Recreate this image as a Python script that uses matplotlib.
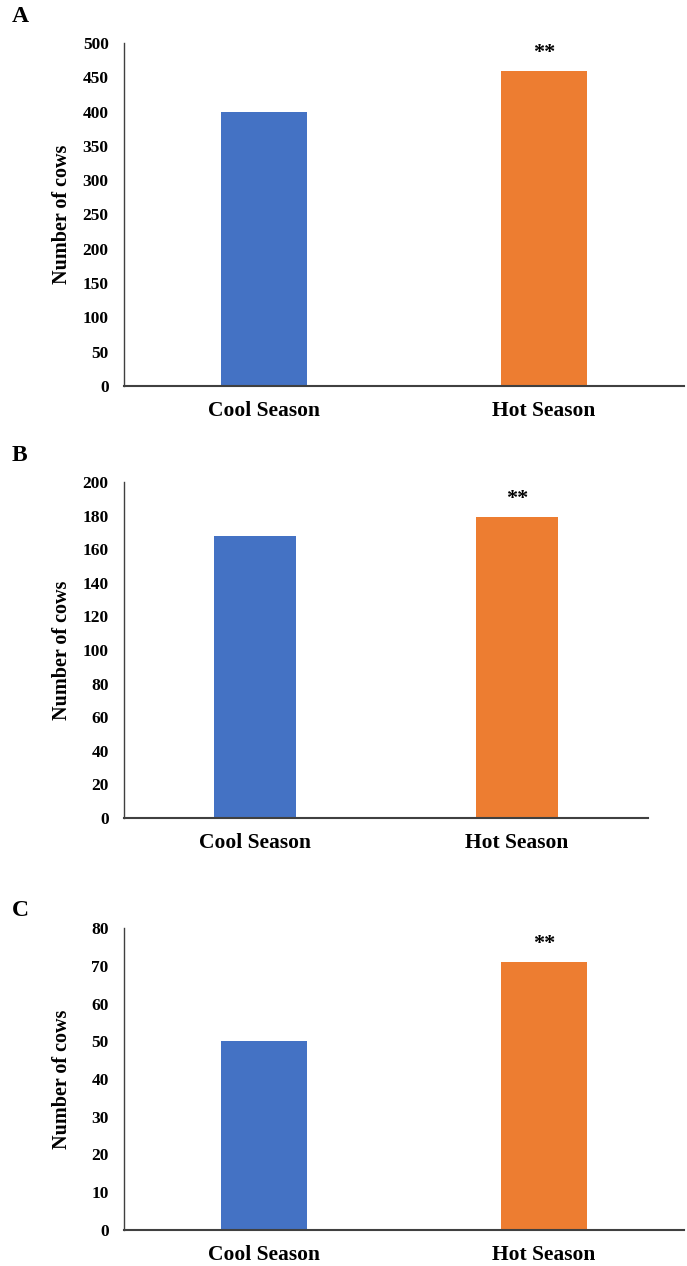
import matplotlib.pyplot as plt

plt.rcParams['font.family'] = 'Liberation Serif'
plt.rcParams['font.weight'] = 'bold'

seasons = ['Cool Season', 'Hot Season']
panel_letters = ['A', 'B', 'C']
values_a = [399, 459]
values_b = [168, 179]
values_c = [50, 71]
ymax = [500, 200, 80]
ystep = [50, 20, 10]
signif = ['**', '**', '**']

colors = ['#4472C4', '#ED7D31']
W, H = 687, 1266

fig = plt.figure(figsize=(W / 100, H / 100), dpi=100)

# axes boxes in pixels: left, right, top, bottom
boxes = [(124, 684, 43, 386), (124, 648, 482, 818), (124, 684, 928, 1230)]
letter_y = [17, 456, 910]

for i, vals in enumerate([values_a, values_b, values_c]):
    l, r, t, b = boxes[i]
    ax = fig.add_axes([l / W, 1 - b / H, (r - l) / W, (b - t) / H])
    x = range(len(seasons))
    bars = ax.bar(x, vals, width=0.31, color=colors, zorder=2)
    ax.set_xlim(-0.5, 1.5)
    ax.set_ylim(0, ymax[i])
    ax.set_yticks(range(0, ymax[i] + 1, ystep[i]))
    ax.set_xticks(list(x))
    ax.set_xticklabels(seasons, fontsize=15.5, fontweight='bold')
    for lab in ax.get_yticklabels():
        lab.set_fontsize(12.5)
        lab.set_fontweight('bold')
    ax.tick_params(axis='y', length=0, pad=11)
    ax.tick_params(axis='x', length=0, pad=11)
    for s in ['top', 'right']:
        ax.spines[s].set_visible(False)
    ax.spines['left'].set_color('#404040')
    ax.spines['left'].set_linewidth(1.0)
    ax.spines['bottom'].set_color('#404040')
    ax.spines['bottom'].set_linewidth(1.5)
    ax.set_ylabel('Number of cows', fontsize=14.5, fontweight='bold')
    ax.yaxis.set_label_coords(-(l - 72) / (r - l), 0.5)

    hot = bars[1]
    ax.annotate(signif[i], xy=(hot.get_x() + hot.get_width() / 2, hot.get_height()),
                xytext=(0, 6), textcoords='offset points',
                ha='center', va='bottom', fontsize=16, fontweight='bold')

    fig.text(12 / W, 1 - letter_y[i] / H, panel_letters[i], fontsize=17,
             fontweight='bold', ha='left', va='center')

fig.savefig('out.png', dpi=100)
